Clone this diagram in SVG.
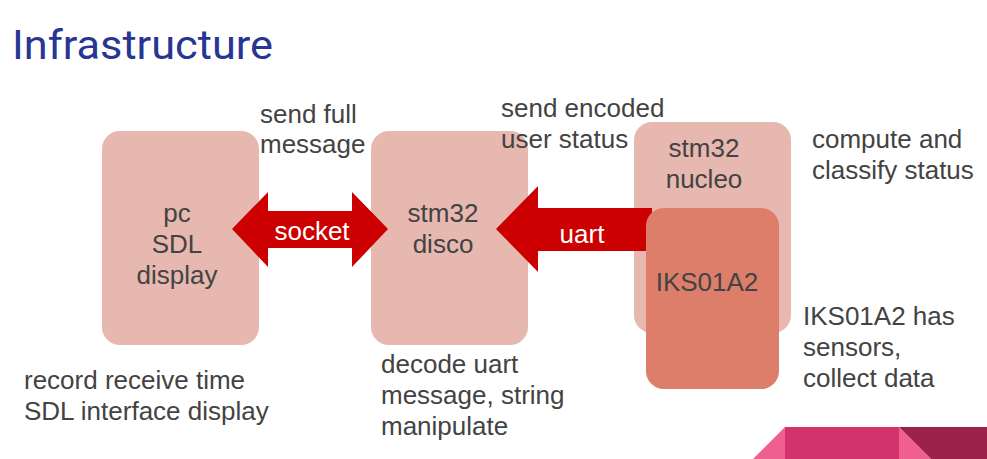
<svg xmlns="http://www.w3.org/2000/svg" width="987" height="459" viewBox="0 0 987 459">
<style>
.box{fill:#E6B8AF}
.iks{fill:#DD7E6B}
.arrow{fill:#CC0000}
.t{font-family:"Liberation Sans",Arial,sans-serif;font-size:26px;fill:#434343}
.c{text-anchor:middle}
.w{font-family:"Liberation Sans",Arial,sans-serif;font-size:26px;fill:#FFFFFF;text-anchor:middle}
.title{font-family:Roboto,"Liberation Sans",sans-serif;font-size:40px;fill:#283593}
</style>
<rect width="987" height="459" fill="#FFFFFF"/>
<text class="title" x="12" y="59" textLength="261" lengthAdjust="spacingAndGlyphs">Infrastructure</text>

<g id="pc">
<rect class="box" x="102" y="131" width="157" height="214" rx="18"/>
<text class="t c" x="177" y="222">pc</text>
<text class="t c" x="177" y="253">SDL</text>
<text class="t c" x="177" y="284">display</text>
</g>

<g id="disco">
<rect class="box" x="371" y="131" width="157" height="214" rx="18"/>
<text class="t c" x="443" y="222">stm32</text>
<text class="t c" x="443" y="253">disco</text>
</g>

<g id="nucleo">
<rect class="box" x="634" y="122" width="157" height="211" rx="18"/>
<text class="t c" x="704" y="157">stm32</text>
<text class="t c" x="704" y="188">nucleo</text>
</g>

<g id="connectors">
<polygon class="arrow" points="232,229 268,192 268,211 352,211 352,192 388,229 352,267 352,248 268,248 268,267"/>
<text class="w" x="312" y="240">socket</text>
<polygon class="arrow" points="496,229 538,186 538,208 652,208 652,251 538,251 538,272"/>
<text class="w" x="582" y="243">uart</text>
</g>

<g id="iks">
<rect class="iks" x="646" y="208" width="133" height="181" rx="18"/>
<text class="t c" x="707" y="291">IKS01A2</text>
</g>

<g id="labels">
<text class="t" x="260" y="123">send full</text>
<text class="t" x="260" y="153">message</text>
<text class="t" x="501" y="117">send encoded</text>
<text class="t" x="501" y="148">user status</text>
<text class="t" x="812" y="148">compute and</text>
<text class="t" x="812" y="179">classify status</text>
<text class="t" x="803" y="325">IKS01A2 has</text>
<text class="t" x="803" y="356">sensors,</text>
<text class="t" x="803" y="387">collect data</text>
<text class="t" x="24" y="389">record receive time</text>
<text class="t" x="24" y="420">SDL interface display</text>
<text class="t" x="381" y="373">decode uart</text>
<text class="t" x="381" y="404">message, string</text>
<text class="t" x="381" y="435">manipulate</text>
</g>

<g id="decoration">
<polygon fill="#EF5F8F" points="753,459 785,427 785,459"/>
<rect fill="#D3336A" x="785" y="427" width="114" height="32"/>
<polygon fill="#EF5F8F" points="899,427 931,459 899,459"/>
<polygon fill="#9C224C" points="899,427 987,427 987,459 931,459"/>
</g>
</svg>
